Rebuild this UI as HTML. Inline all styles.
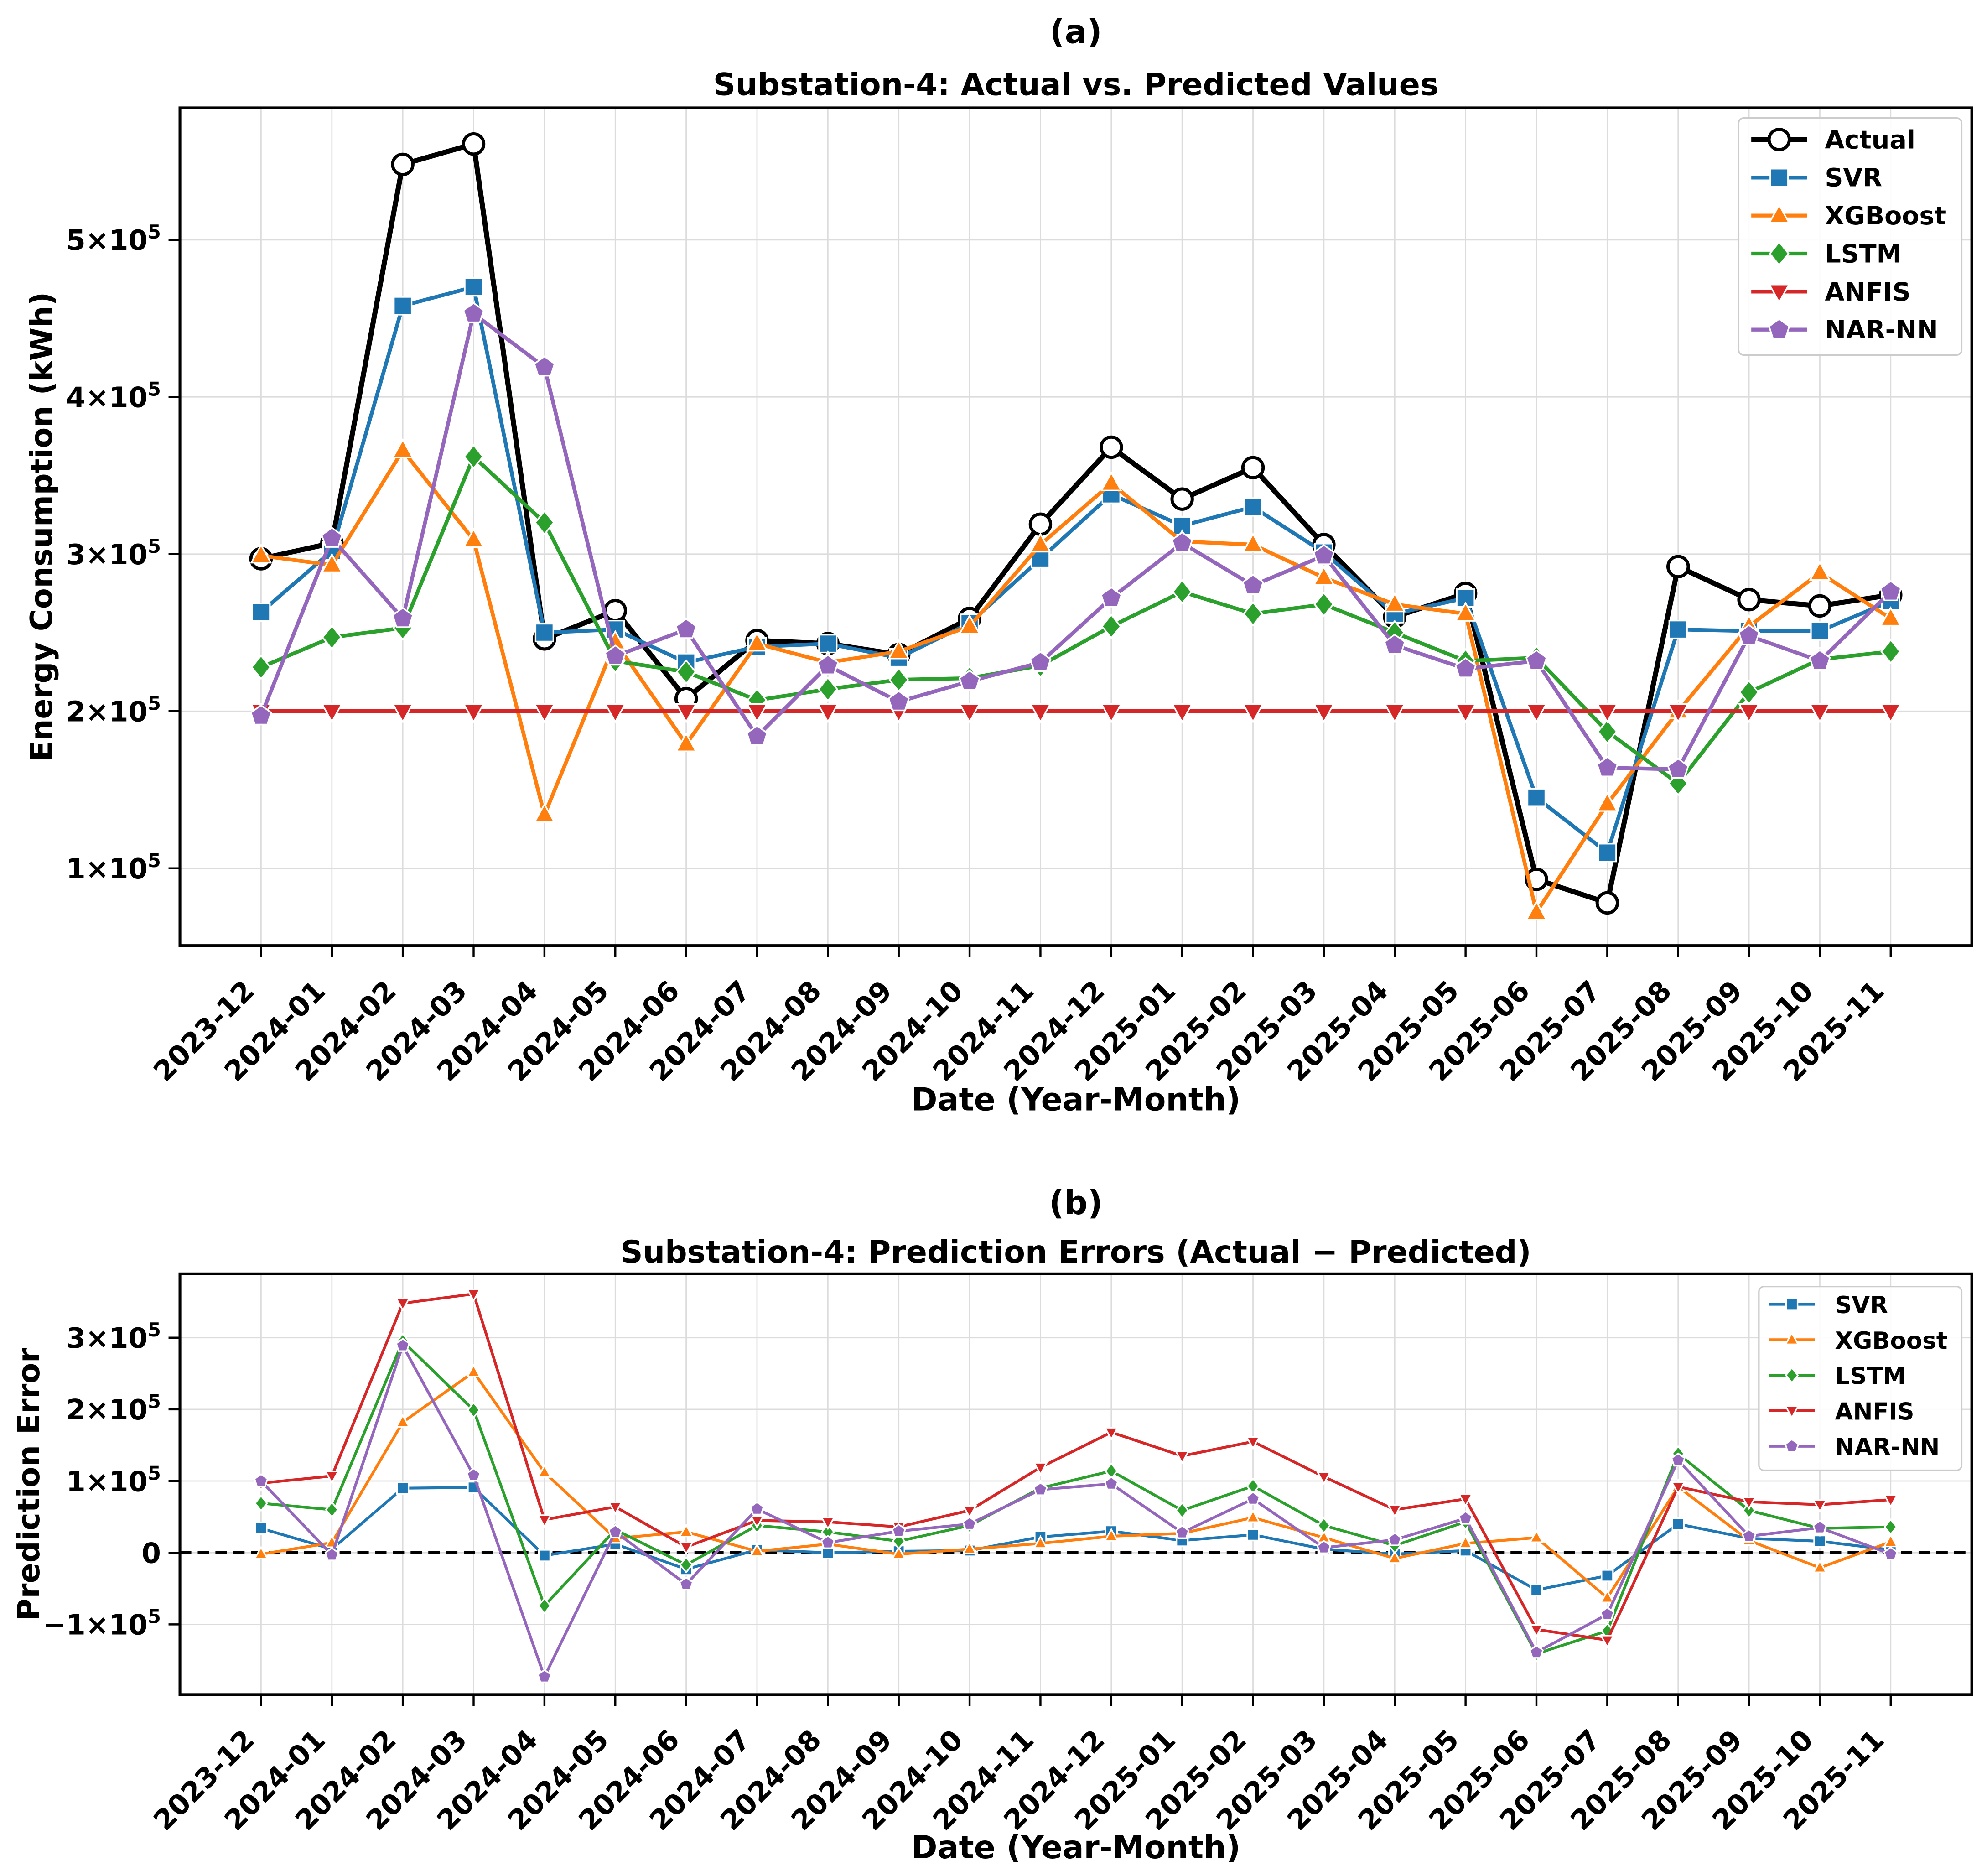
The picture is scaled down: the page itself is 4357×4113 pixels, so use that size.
<!DOCTYPE html>
<html><head><meta charset="utf-8"><style>
html,body{margin:0;padding:0;background:#fff}
svg{display:block;font-family:"DejaVu Sans","Liberation Sans",sans-serif;font-weight:bold}
</style></head><body>
<svg id="chart" width="4357" height="4113" viewBox="0 0 1568 1480" xmlns="http://www.w3.org/2000/svg"></svg>
<script>
const months=["2023-12","2024-01","2024-02","2024-03","2024-04","2024-05","2024-06","2024-07","2024-08","2024-09","2024-10","2024-11","2024-12","2025-01","2025-02","2025-03","2025-04","2025-05","2025-06","2025-07","2025-08","2025-09","2025-10","2025-11"];
const actual=[297,307,548,561,246,264,208,245,243,236,259,319,368,335,355,306,260,275,93,78,292,271,267,274];
const svr=[263,302,458,470,250,252,231,241,243,234,256,297,338,318,330,301,262,272,145,110,252,251,251,270];
const xgb=[299,293,366,309,134,244,179,243,231,238,254,306,345,308,306,285,268,262,72,141,200,254,288,259];
const lstm=[228,247,253,362,320,232,225,207,214,220,221,229,254,276,262,268,250,232,234,187,154,212,233,238];
const anfis=[200,200,200,200,200,200,200,200,200,200,200,200,200,200,200,200,200,200,200,200,200,200,200,200];
const narnn=[197,310,259,453,419,235,252,184,229,206,219,231,272,307,280,299,242,227,232,164,163,248,232,276];
const topTicks=[1,2,3,4,5];
const botTicks=[-1,0,1,2,3];

const NS="http://www.w3.org/2000/svg";
const svg=document.getElementById('chart');
function el(tag,attrs,parent,text){const e=document.createElementNS(NS,tag);for(const k in attrs)e.setAttribute(k,attrs[k]);if(text!==undefined)e.textContent=text;(parent||svg).appendChild(e);return e;}
const models=[
 {name:"SVR",data:svr,color:"#1f77b4",m:"square"},
 {name:"XGBoost",data:xgb,color:"#ff7f0e",m:"tri-up"},
 {name:"LSTM",data:lstm,color:"#2ca02c",m:"diamond"},
 {name:"ANFIS",data:anfis,color:"#d62728",m:"tri-down"},
 {name:"NAR-NN",data:narnn,color:"#9467bd",m:"pent"}];
function marker(g,type,x,y,s,color,sw){
 let a={fill:color,stroke:"#fff","stroke-width":sw};let e;
 if(type==="square")e=el('rect',Object.assign({x:x-s,y:y-s,width:2*s,height:2*s},a),g);
 else if(type==="tri-up")e=el('polygon',Object.assign({points:`${x},${y-s*1.2} ${x-s*1.1},${y+s*0.8} ${x+s*1.1},${y+s*0.8}`},a),g);
 else if(type==="tri-down")e=el('polygon',Object.assign({points:`${x},${y+s*1.2} ${x-s*1.1},${y-s*0.8} ${x+s*1.1},${y-s*0.8}`},a),g);
 else if(type==="diamond")e=el('polygon',Object.assign({points:`${x},${y-s*1.3} ${x+s*1.05},${y} ${x},${y+s*1.3} ${x-s*1.05},${y}`},a),g);
 else if(type==="pent"){let p=[];for(let i=0;i<5;i++){const t=-Math.PI/2+i*2*Math.PI/5;p.push((x+s*1.2*Math.cos(t))+","+(y+s*1.2*Math.sin(t)));}e=el('polygon',Object.assign({points:p.join(" ")},a),g);}
 else if(type==="circle")e=el('circle',{cx:x,cy:y,r:s,fill:"#fff",stroke:color,"stroke-width":sw},g);
 return e;
}
function panel(cfg){
 const {L,R,T,B,ymin,ymax,ticks,label,title,tag,tagY,titleY,xlabY,series,lw,ms,leg}=cfg;
 const xs=i=>206+(1492-206)*i/(months.length-1);
 const ys=v=>B-(v-ymin)/(ymax-ymin)*(B-T);
 const g=el('g',{}); 
 months.forEach((m,i)=>{el('line',{x1:xs(i),x2:xs(i),y1:T,y2:B,stroke:"#dcdcdc","stroke-width":1},g);});
 ticks.forEach(t=>{const y=ys(t*1e5);el('line',{x1:L,x2:R,y1:y,y2:y,stroke:"#dcdcdc","stroke-width":1},g);
   el('line',{x1:L-9,x2:L,y1:y,y2:y,stroke:"#000","stroke-width":1.6},g);
   const tx=el('text',{x:L-15,y:y+8,"text-anchor":"end","font-size":22},g);
   
   if(t===0)tx.textContent="0";else{tx.textContent=(t<0?"−":"")+Math.abs(t)+"×10";el('tspan',{"font-size":15,dy:-9},tx,"5");}
 });
 months.forEach((m,i)=>{const x=xs(i);el('line',{x1:x,x2:x,y1:B,y2:B+9,stroke:"#000","stroke-width":1.6},g);
   const ax=x-4, ay=B+37;
   const t=el('text',{x:ax,y:ay,"text-anchor":"end","font-size":22,transform:`rotate(-45 ${ax} ${ay})`},g,m);
   });
 if(cfg.zero){const z=el('line',{x1:L,x2:R,y1:ys(0),y2:ys(0),stroke:"#000","stroke-width":2.5,"stroke-dasharray":"9,5"},g);}
 series.forEach(s=>{
   const sg=el('g',{},g);
   el('polyline',{points:s.vals.map((v,i)=>xs(i)+","+ys(v)).join(" "),fill:"none",stroke:s.color,"stroke-width":s.lw||lw,"stroke-linejoin":"round"},sg);
   s.vals.forEach((v,i)=>{const mk=marker(sg,s.m,xs(i),ys(v),s.ms||ms,s.color,s.msw||1.2);
     });
 });
 el('rect',{x:L,y:T,width:R-L,height:B-T,fill:"none",stroke:"#000","stroke-width":2.2},g);
 const tg=el('text',{x:(L+R)/2,y:tagY,"text-anchor":"middle","font-size":26},g,tag);
 const ti=el('text',{x:(L+R)/2,y:titleY,"text-anchor":"middle","font-size":24.5},g,title);
 const yl=el('text',{x:0,y:0,"text-anchor":"middle","font-size":cfg.ylFs,transform:`translate(${cfg.ylX} ${(T+B)/2}) rotate(-90)`},g,label);
 const xl=el('text',{x:(L+R)/2,y:xlabY,"text-anchor":"middle","font-size":25},g,"Date (Year-Month)");
 const lg=el('g',{},g);
 el('rect',{x:leg.x,y:leg.y,width:leg.w,height:leg.h,rx:4,fill:"#fff","fill-opacity":0.9,stroke:"#ccc","stroke-width":1.2},lg);
 series.forEach((s,k)=>{const y=leg.y0+k*leg.dy;const eg=el('g',{},lg);
   el('line',{x1:leg.lx1,x2:leg.lx2,y1:y,y2:y,stroke:s.color,"stroke-width":s.lw||lw},eg);
   marker(eg,s.m,(leg.lx1+leg.lx2)/2,y,s.ms||ms,s.color,s.msw||1.2);
   el('text',{x:leg.tx,y:y+7,"font-size":leg.fs},eg,s.name);});
}
const topSeries=[{name:"Actual",vals:actual.map(v=>v*1000),color:"#000",m:"circle",lw:4,ms:8,msw:2.5}].concat(models.map(m=>({name:m.name,vals:m.data.map(v=>v*1000),color:m.color,m:m.m})));
panel({name:'panel-a',L:142,R:1556,T:85,B:746,ymin:50800,ymax:584000,ticks:topTicks,label:"Energy Consumption (kWh)",title:"Substation-4: Actual vs. Predicted Values",tag:"(a)",tagY:34,titleY:75,xlabY:876,ylX:41,ylFs:24,series:topSeries,lw:3,ms:7,
 leg:{x:1372,y:93,w:176,h:187,y0:110,dy:30,lx1:1382,lx2:1426,tx:1440,fs:20}});
const botSeries=models.map(m=>({name:m.name,vals:actual.map((a,i)=>(a-m.data[i])*1000),color:m.color,m:m.m}));
panel({name:'panel-b',L:142,R:1556,T:1005,B:1337,ymin:-198000,ymax:389000,ticks:botTicks,label:"Prediction Error",title:"Substation-4: Prediction Errors (Actual − Predicted)",tag:"(b)",tagY:958,titleY:996,xlabY:1466,ylX:31,ylFs:24,series:botSeries,lw:2.2,ms:4.5,zero:true,
 leg:{x:1388,y:1015,w:160,h:145,y0:1029,dy:28,lx1:1396,lx2:1432,tx:1448,fs:18.5}});
</script>
</body></html>
